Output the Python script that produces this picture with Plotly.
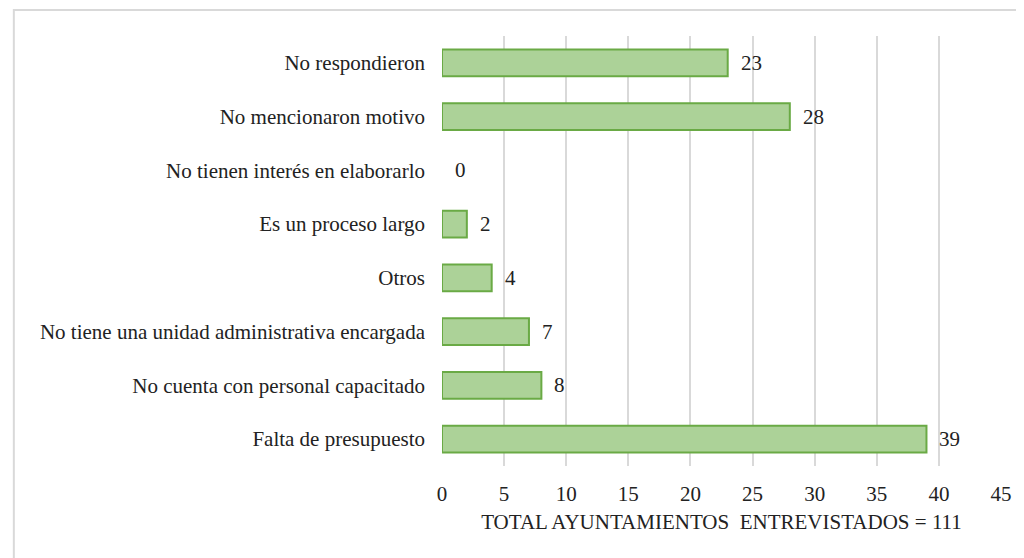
import plotly.graph_objects as go

categories = [
    "No respondieron",
    "No mencionaron motivo",
    "No tienen interés en elaborarlo",
    "Es un proceso largo",
    "Otros",
    "No tiene una unidad administrativa encargada",
    "No cuenta con personal capacitado",
    "Falta de presupuesto",
]
values = [23, 28, 0, 2, 4, 7, 8, 39]
x_ticks = [0, 5, 10, 15, 20, 25, 30, 35, 40, 45]
x_title = "TOTAL AYUNTAMIENTOS  ENTREVISTADOS = 111"

FONT = "Liberation Serif"
FS = 21
OFF = 8  # page body margin
W, H = 1024 - OFF, 558 - OFF
L, R, T, B = 442 - OFF, 26 - OFF, 36 - OFF, 92
pw, ph = W - L - R, H - T - B

fig = go.Figure()
fig.add_trace(go.Bar(
    x=values, y=categories, orientation="h",
    marker=dict(color="#acd298",
                line=dict(color="#6aaa45", width=[2 if v > 0 else 0 for v in values])),
    width=0.5, hoverinfo="x+y",
))

annotations = [
    dict(x=v, y=c, xref="x", yref="y", text=str(v), showarrow=False,
         xanchor="left", xshift=11, font=dict(family=FONT, size=FS, color="#222"))
    for c, v in zip(categories, values)
]

fig.update_layout(
    width=W, height=H,
    margin=dict(l=L, r=R, t=T, b=B, pad=0),
    paper_bgcolor="white", plot_bgcolor="white",
    showlegend=False,
    font=dict(family=FONT, size=FS, color="#222"),
    xaxis=dict(range=[0, 45], tickvals=x_ticks, showgrid=True, gridcolor="#d9d9d9",
               gridwidth=1.5, zeroline=False, showline=False, ticks="",
               ticklabelstandoff=13,
               title=dict(text=x_title, font=dict(family=FONT, size=FS), standoff=9),
               tickfont=dict(family=FONT, size=FS)),
    yaxis=dict(autorange="reversed", showgrid=False, zeroline=False, showline=False,
               ticks="", ticklabelstandoff=16, tickfont=dict(family=FONT, size=FS)),
    annotations=annotations,
    shapes=[dict(type="rect", xref="paper", yref="paper",
                 x0=(10 - OFF - L) / pw, x1=(W + 10 - L) / pw,
                 y0=(H - B - (H + 10)) / ph, y1=(H - B - (10 - OFF)) / ph,
                 line=dict(color="#d9d9d9", width=2), layer="below")],
)
fig.write_html("out.html")
